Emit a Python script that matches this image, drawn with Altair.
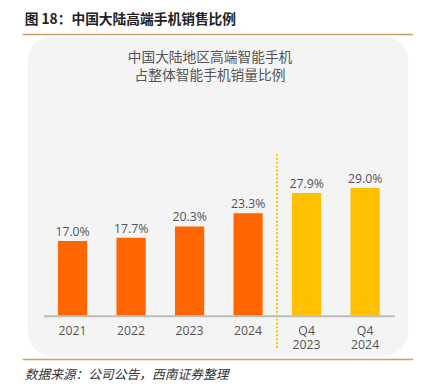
import altair as alt
import pandas as pd

categories = ["2021", "2022", "2023", "2024", "Q4\n2023", "Q4\n2024"]
values = [17.0, 17.7, 20.3, 23.3, 27.9, 29.0]
value_labels = ["17.0%", "17.7%", "20.3%", "23.3%", "27.9%", "29.0%"]
groups = ["年度", "年度", "年度", "年度", "季度", "季度"]
group_colors = ["#FF6600", "#FFC000"]

fig_title = "图 18：中国大陆高端手机销售比例"
inner_title = ["中国大陆地区高端智能手机", "占整体智能手机销量比例"]
source = "数据来源：公司公告，西南证券整理"

df = pd.DataFrame({"cat": categories, "val": values, "lab": value_labels, "grp": groups})
one = pd.DataFrame({"k": [0]})

x_enc = alt.X("cat:N", sort=categories,
              scale=alt.Scale(paddingInner=0.5, paddingOuter=0.25),
              axis=alt.Axis(title=None, labelAngle=0, ticks=False, labelPadding=9,
                            labelFontSize=12.5, labelColor="#555555", labelFont="Open Sans",
                            labelLineHeight=14, zindex=1,
                            labelExpr="split(datum.label, '\\n')",
                            domainColor="#BDBDBD", domainWidth=2, grid=False))
y_enc = alt.Y("val:Q", scale=alt.Scale(domain=[0, 35]), axis=None)

panel = alt.Chart(one).mark_rect(fill="#F4F4F4", cornerRadius=25).encode(
    x=alt.value(-16), x2=alt.value(372), y=alt.value(-128), y2=alt.value(198))

top_line = alt.Chart(one).mark_rule(color="#C9A063", strokeWidth=1.5).encode(
    x=alt.value(-21), x2=alt.value(377), y=alt.value(-129.7))
bot_line = alt.Chart(one).mark_rule(color="#C9A063", strokeWidth=1.5).encode(
    x=alt.value(-21), x2=alt.value(377), y=alt.value(201.7))

header = alt.Chart(one).mark_text(align="left", baseline="middle", fontSize=14,
                                  fontWeight="bold", font="Noto Sans CJK SC",
                                  color="#222222", text=fig_title).encode(
    x=alt.value(-19), y=alt.value(-144))
t1 = alt.Chart(one).mark_text(align="center", baseline="middle", fontSize=14,
                              font="Noto Sans CJK SC", color="#555555",
                              text=inner_title[0]).encode(x=alt.value(170), y=alt.value(-105.5))
t2 = alt.Chart(one).mark_text(align="center", baseline="middle", fontSize=14,
                              font="Noto Sans CJK SC", color="#555555",
                              text=inner_title[1]).encode(x=alt.value(170), y=alt.value(-87))
src = alt.Chart(one).mark_text(align="left", baseline="middle", fontSize=13,
                               fontStyle="italic", font="Noto Sans CJK SC",
                               color="#333333", text=source).encode(
    x=alt.value(-19), y=alt.value(217.5))

divider = alt.Chart(one).mark_rule(color="#FFC000", strokeWidth=2, strokeDash=[2, 2]).encode(
    x=alt.value(238.3), y=alt.value(-8), y2=alt.value(192))

bars = alt.Chart(df).mark_bar().encode(
    x=x_enc, y=y_enc,
    color=alt.Color("grp:N", scale=alt.Scale(domain=["年度", "季度"], range=group_colors),
                    legend=None))
labels = alt.Chart(df).mark_text(baseline="alphabetic", dy=-5, fontSize=12.5,
                                 font="Open Sans", color="#555555").encode(
    x=alt.X("cat:N", sort=categories), y="val:Q", text="lab:N")

chart = alt.layer(panel, top_line, bot_line, header, t1, t2, src, divider, bars, labels).properties(
    width=358, height=157,
    padding={"left": 36, "top": 153, "right": 20, "bottom": 71},
    autosize=alt.AutoSizeParams(type="none"),
    background="white",
).configure_view(stroke=None)

chart.save("out.html", embed_options={"renderer": "svg", "actions": False})
